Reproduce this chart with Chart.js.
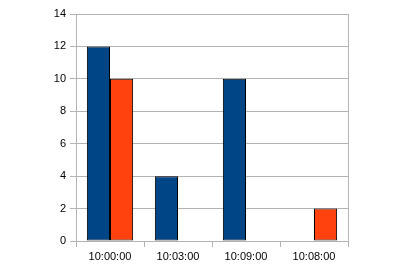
<!DOCTYPE html>
<html><head><meta charset="utf-8">
<script src="https://cdn.jsdelivr.net/npm/chart.js@4"></script>
<style>html,body{margin:0;padding:0;background:#fff;}#wrap{width:403px;height:272px;}</style>
</head><body><div id="wrap"><canvas id="c" width="403" height="272"></canvas></div>
<script>
const categories = ["10:00:00", "10:03:00", "10:09:00", "10:08:00"];
const seriesBlue = [12, 4, 10, 0];
const seriesOrange = [10, 0, 0, 2];
const yTicks = [0, 2, 4, 6, 8, 10, 12, 14];

const gray = '#b3b3b3';
const rightBorder = {
  id: 'rightBorder',
  afterDraw(chart) {
    const a = chart.chartArea, ctx = chart.ctx;
    ctx.save();
    ctx.strokeStyle = gray; ctx.lineWidth = 1;
    ctx.beginPath();
    ctx.moveTo(Math.round(a.right) + 0.5, a.top);
    ctx.lineTo(Math.round(a.right) + 0.5, a.bottom + 6);
    ctx.stroke();
    ctx.restore();
  }
};

new Chart(document.getElementById('c'), {
  type: 'bar',
  data: {
    labels: categories,
    datasets: [
      { data: seriesBlue, backgroundColor: '#004586', borderColor: '#000', borderWidth: 1, borderSkipped: false },
      { data: seriesOrange, backgroundColor: '#ff420e', borderColor: '#000', borderWidth: 1, borderSkipped: false }
    ]
  },
  options: {
    responsive: false,
    animation: false,
    devicePixelRatio: 1,
    layout: { padding: { left: 0, right: 55, top: 14, bottom: 0 } },
    datasets: { bar: { categoryPercentage: 0.68, barPercentage: 1.0 } },
    plugins: { legend: { display: false }, tooltip: { enabled: false } },
    scales: {
      x: {
        afterFit(s) { s.height = 31; },
        grid: { offset: true, drawOnChartArea: false, color: gray, tickColor: gray, tickLength: 6 },
        border: { color: gray },
        ticks: { color: '#000', font: { family: 'Liberation Sans', size: 11 }, padding: 3 }
      },
      y: {
        min: 0, max: 14,
        afterFit(s) { s.width = 76; },
        afterBuildTicks(s) { s.ticks = yTicks.map(v => ({ value: v })); },
        grid: { color: gray, tickColor: gray, tickLength: 6 },
        border: { color: gray },
        ticks: { color: '#000', font: { family: 'Liberation Sans', size: 11 }, padding: 4 }
      }
    }
  },
  plugins: [rightBorder]
});
</script></body></html>
